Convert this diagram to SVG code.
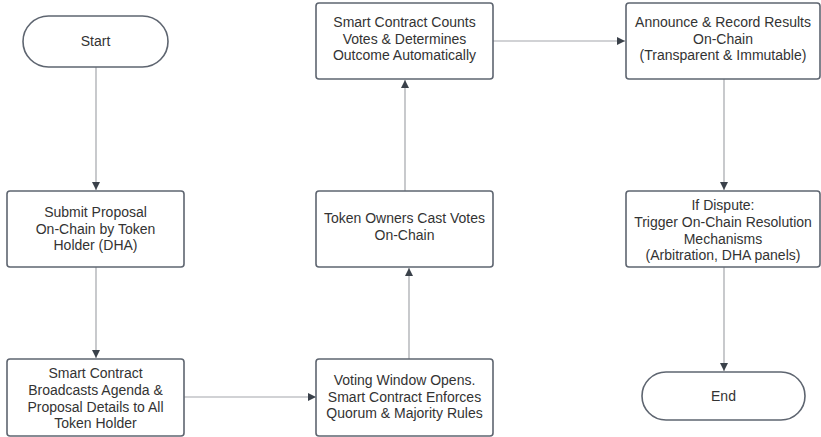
<svg xmlns="http://www.w3.org/2000/svg" width="821" height="437" viewBox="0 0 821 437">
<style>
.n{fill:#fff;stroke:#5e6570;stroke-width:1.6}
.t{font-family:"Liberation Sans",Arial,sans-serif;font-size:14px;fill:#333;text-anchor:middle}
.c{fill:none;stroke:#a3a6ab;stroke-width:1.2}
</style>
<defs>
<marker id="a" markerWidth="10" markerHeight="10" refX="9" refY="5" orient="auto" markerUnits="userSpaceOnUse">
<path d="M1,1 L9,5 L1,9 Z" fill="#3a414a"/>
</marker>
</defs>
<rect width="821" height="437" fill="#fff"/>
<g id="connectors">
<path class="c" d="M96,67 V190" marker-end="url(#a)"/>
<path class="c" d="M96,267 V358" marker-end="url(#a)"/>
<path class="c" d="M184,397 H316" marker-end="url(#a)"/>
<path class="c" d="M409,359 V268" marker-end="url(#a)"/>
<path class="c" d="M405,191 V80" marker-end="url(#a)"/>
<path class="c" d="M493,41 H625" marker-end="url(#a)"/>
<path class="c" d="M724,79 V190" marker-end="url(#a)"/>
<path class="c" d="M724,267 V371" marker-end="url(#a)"/>
</g>
<g id="start">
<rect class="n" x="23" y="16" width="145" height="51" rx="25.5"/>
<text class="t" x="95.5" y="46">Start</text>
</g>
<g id="submit">
<rect class="n" x="7" y="191" width="177" height="76" rx="3"/>
<text class="t" x="95.5" y="217">Submit Proposal</text>
<text class="t" x="95.5" y="233.5">On-Chain by Token</text>
<text class="t" x="95.5" y="250">Holder (DHA)</text>
</g>
<g id="broadcast">
<rect class="n" x="7" y="359" width="177" height="77" rx="3"/>
<text class="t" x="95.5" y="378">Smart Contract</text>
<text class="t" x="95.5" y="394.8">Broadcasts Agenda &amp;</text>
<text class="t" x="95.5" y="411.6">Proposal Details to All</text>
<text class="t" x="95.5" y="428.4">Token Holder</text>
</g>
<g id="voting">
<rect class="n" x="316" y="359" width="177" height="77" rx="3"/>
<text class="t" x="404.5" y="385">Voting Window Opens.</text>
<text class="t" x="404.5" y="401.5">Smart Contract Enforces</text>
<text class="t" x="404.5" y="418">Quorum &amp; Majority Rules</text>
</g>
<g id="cast">
<rect class="n" x="316" y="191" width="177" height="76" rx="3"/>
<text class="t" x="404.5" y="223">Token Owners Cast Votes</text>
<text class="t" x="404.5" y="239.5">On-Chain</text>
</g>
<g id="count">
<rect class="n" x="316" y="3" width="177" height="76" rx="3"/>
<text class="t" x="404.5" y="27">Smart Contract Counts</text>
<text class="t" x="404.5" y="43.5">Votes &amp; Determines</text>
<text class="t" x="404.5" y="60">Outcome Automatically</text>
</g>
<g id="announce">
<rect class="n" x="626" y="3" width="194" height="76" rx="3"/>
<text class="t" x="723" y="27">Announce &amp; Record Results</text>
<text class="t" x="723" y="43.5">On-Chain</text>
<text class="t" x="723" y="60">(Transparent &amp; Immutable)</text>
</g>
<g id="dispute">
<rect class="n" x="626" y="191" width="194" height="76" rx="3"/>
<text class="t" x="723" y="210">If Dispute:</text>
<text class="t" x="723" y="226.8">Trigger On-Chain Resolution</text>
<text class="t" x="723" y="243.6">Mechanisms</text>
<text class="t" x="723" y="260.4">(Arbitration, DHA panels)</text>
</g>
<g id="end">
<rect class="n" x="642" y="372" width="163" height="48" rx="24"/>
<text class="t" x="723.5" y="400.5">End</text>
</g>
</svg>
